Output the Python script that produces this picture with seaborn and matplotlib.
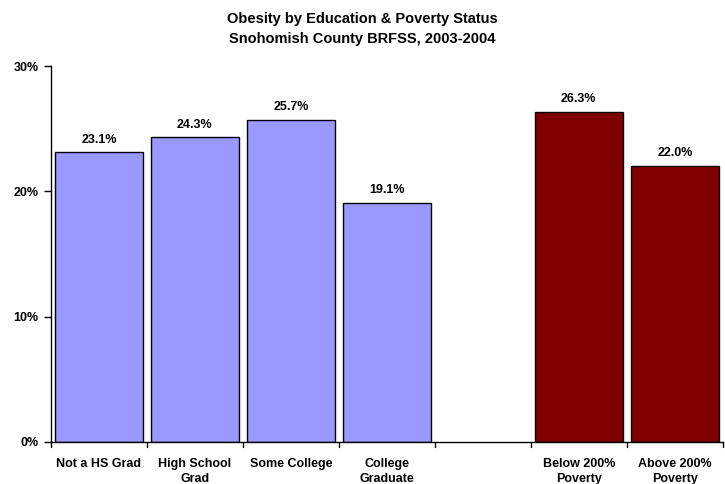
import matplotlib
matplotlib.use("Agg")
import matplotlib.pyplot as plt
import matplotlib.ticker as mticker
import seaborn as sns
import pandas as pd

categories = ["Not a HS Grad", "High School\nGrad", "Some College", "College\nGraduate",
              "", "Below 200%\nPoverty", "Above 200%\nPoverty"]
labels = ["Not a HS Grad", "High School\nGrad", "Some College", "College\nGraduate",
          "Below 200%\nPoverty", "Above 200%\nPoverty"]
values = [23.1, 24.3, 25.7, 19.1, 26.3, 22.0]
groups = ["Education", "Education", "Education", "Education", "Poverty", "Poverty"]
group_colors = {"Education": "#9999FF", "Poverty": "#800000"}

df = pd.DataFrame({"category": labels, "value": values, "group": groups})

sns.set_style("white")
plt.rcParams["font.family"] = ["Liberation Sans", "DejaVu Sans"]
plt.rcParams["text.color"] = "black"
plt.rcParams["xtick.color"] = "black"
plt.rcParams["ytick.color"] = "black"

fig = plt.figure(figsize=(7.25, 4.84), dpi=100)
ax = fig.add_axes([0.0703, 0.0868, 0.9267, 0.7768])

sns.barplot(data=df, x="category", y="value", hue="group", order=categories,
            palette=group_colors, dodge=False, width=0.92, edgecolor="black",
            linewidth=1.0, saturation=1, legend=False, ax=ax)

for cont in ax.containers:
    for bar in cont:
        h = bar.get_height()
        if h != h or h == 0:
            continue
        ax.annotate(f"{h:.1f}%", (bar.get_x() + bar.get_width() / 2, h),
                    xytext=(0, 5), textcoords="offset points",
                    ha="center", va="bottom", fontsize=9, fontweight="bold",
                    color="black")

ax.set_ylim(0, 30)
ax.set_xlim(-0.5, len(categories) - 0.5)
ax.yaxis.set_major_locator(mticker.MultipleLocator(10))
ax.yaxis.set_major_formatter(mticker.FuncFormatter(lambda v, p: f"{v:.0f}%"))
ax.set_xlabel("")
ax.set_ylabel("")

# category boundary ticks on x axis
ax.set_xticks([i for i in range(len(categories))])
ax.set_xticklabels(categories, fontsize=9, fontweight="bold", linespacing=1.35)
ax.tick_params(axis="x", length=0, pad=11.5)
for b in [i - 0.5 for i in range(len(categories) + 1)]:
    ax.plot([b, b], [0, -0.012], transform=ax.get_xaxis_transform(),
            color="black", lw=1, clip_on=False)
ax.tick_params(axis="y", length=5, width=1, color="black", direction="out",
               labelsize=9, pad=4, left=True)
for lbl in ax.get_yticklabels():
    lbl.set_fontweight("bold")

for s in ["top", "right"]:
    ax.spines[s].set_visible(False)
for s in ["left", "bottom"]:
    ax.spines[s].set_color("black")
    ax.spines[s].set_linewidth(1)

fig.text(0.5, 0.975, "Obesity by Education & Poverty Status\nSnohomish County BRFSS, 2003-2004",
         ha="center", va="top", fontsize=10.5, fontweight="bold", linespacing=1.55)

fig.savefig("out.png", dpi=100)
